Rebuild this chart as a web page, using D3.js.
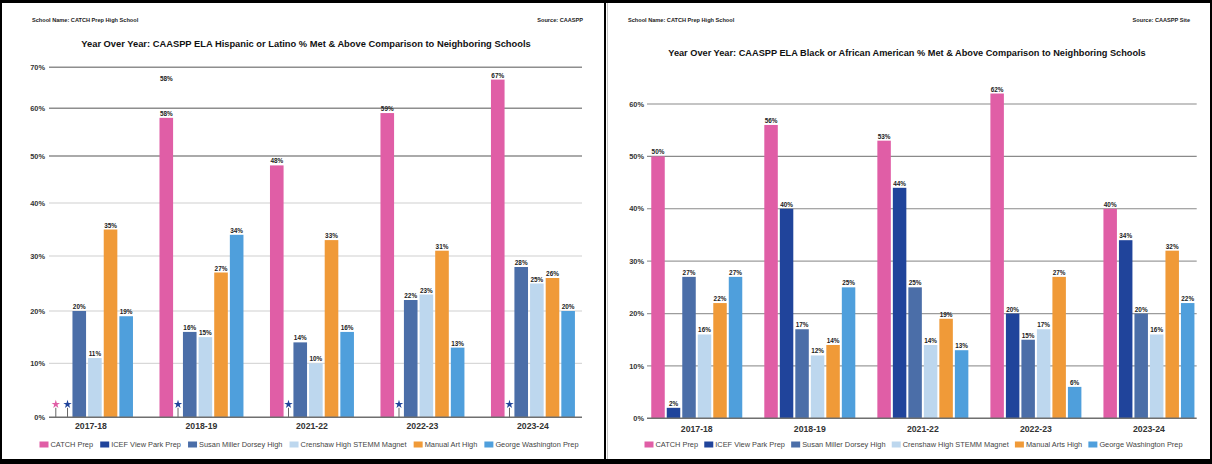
<!DOCTYPE html>
<html><head><meta charset="utf-8">
<script src="https://cdn.jsdelivr.net/npm/d3@7"></script>
<style>
body{margin:0;background:#fff}
svg{display:block}
text{font-family:"Liberation Sans", Arial, Helvetica, sans-serif}
</style>
</head><body>
<svg id="c" width="1212" height="464"></svg>
<script>
// ---------------- DATA ----------------
const years = ["2017-18","2018-19","2021-22","2022-23","2023-24"];
const seriesLeft  = ["CATCH Prep","ICEF View Park Prep","Susan Miller Dorsey High","Crenshaw High STEMM Magnet","Manual Art High","George Washington Prep"];
const seriesRight = ["CATCH Prep","ICEF View Park Prep","Susan Miller Dorsey High","Crenshaw High STEMM Magnet","Manual Arts High","George Washington Prep"];
const colors = ["#e05ea6","#20449b","#4b6ea8","#bdd7ee","#f09a38","#4f9fdc"];

// Hispanic or Latino (% Met & Above); null = suppressed (shown with a star)
const hispCatch    = [null,58,48,59,67];
const hispIcef     = [null,null,null,null,null];
const hispDorsey   = [20,16,14,22,28];
const hispCrenshaw = [11,15,10,23,25];
const hispManual   = [35,27,33,31,26];
const hispGW       = [19,34,16,13,20];

// Black or African American (% Met & Above)
const blackCatch    = [50,56,53,62,40];
const blackIcef     = [2,40,44,20,34];
const blackDorsey   = [27,17,25,15,20];
const blackCrenshaw = [16,12,14,17,16];
const blackManual   = [22,14,19,27,32];
const blackGW       = [27,25,13,6,22];

const ticksLeft  = [0,10,20,30,40,50,60,70];
const ticksRight = [0,10,20,30,40,50,60];

const titleLeft  = "Year Over Year: CAASPP ELA Hispanic or Latino % Met & Above Comparison to Neighboring Schools";
const titleRight = "Year Over Year: CAASPP ELA Black or African American % Met & Above Comparison to Neighboring Schools";
const schoolName = "School Name: CATCH Prep High School";
const sourceLeft = "Source: CAASPP";
const sourceRight = "Source: CAASPP Site";

// ---------------- DRAW ----------------
const svg = d3.select("#c");
svg.append("rect").attr("width",1212).attr("height",464).attr("fill","#000");
svg.append("rect").attr("x",2).attr("y",3).attr("width",602).attr("height",456).attr("fill","#fff");
svg.append("rect").attr("x",606).attr("y",3).attr("width",604).attr("height",456).attr("fill","#fff");
svg.append("line").attr("x1",607.5).attr("x2",607.5).attr("y1",3).attr("y2",459)
  .attr("stroke","#c4c4c4").attr("stroke-width",1);

const fmt = v => v + "%";

function fitText(sel, target){
  const w = sel.node().getComputedTextLength();
  const fs = parseFloat(sel.attr("font-size"));
  sel.attr("font-size", fs * target / w);
}

function panel(cfg){
  const g = svg.append("g");

  // header
  g.append("text").attr("x",cfg.schoolX).attr("y",cfg.headY).attr("font-size",5.6)
    .attr("font-weight","bold").attr("fill","#222").text(schoolName);
  g.append("text").attr("x",cfg.sourceX).attr("y",cfg.headY).attr("font-size",5.6)
    .attr("font-weight","bold").attr("fill","#222").attr("text-anchor","end").text(cfg.source);
  const t = g.append("text").attr("x",cfg.titleX).attr("y",cfg.titleY).attr("font-size",10)
    .attr("font-weight","bold").attr("fill","#111").attr("text-anchor","middle").text(cfg.title);
  fitText(t, cfg.titleW);

  const y = d3.scaleLinear().domain(cfg.yDomain).range(cfg.yRange);
  const x = d3.scaleBand().domain(years).range(cfg.xRange)
    .paddingInner(cfg.padIn).paddingOuter(cfg.padOut).align(cfg.align);

  // inner slot layout
  const wts = cfg.weights;
  const step = x.bandwidth() / (d3.sum(wts) - wts[wts.length-1] + cfg.barFrac);
  const offs = wts.map((w,i)=> step * d3.sum(wts.slice(0,i)));
  const widths = wts.map(w => step * (w - (1 - cfg.barFrac)));
  const xo = d3.scaleOrdinal().domain(cfg.series).range(offs);
  const xw = d3.scaleOrdinal().domain(cfg.series).range(widths);

  // gridlines
  g.append("g").selectAll("line").data(cfg.ticks.filter(d=>d>0)).join("line")
    .attr("x1",cfg.gridX[0]).attr("x2",cfg.gridX[1])
    .attr("y1",d=>y(d)).attr("y2",d=>y(d))
    .attr("stroke",d=>cfg.gridColor(d)).attr("stroke-width",d=>cfg.gridWidth(d));
  // y tick labels
  g.append("g").selectAll("text").data(cfg.ticks).join("text")
    .attr("x",cfg.yLabelX).attr("y",d=>y(d)).attr("dy","0.36em")
    .attr("text-anchor","end").attr("font-size",7.4).attr("font-weight","bold")
    .attr("fill","#333").text(fmt);

  // bars
  const recs = [];
  cfg.values.forEach((arr,si)=>{
    arr.forEach((v,yi)=>{
      recs.push({year:years[yi], s:cfg.series[si], si, v});
    });
  });
  const bars = recs.filter(d=>d.v!==null);
  g.append("g").selectAll("rect").data(bars).join("rect")
    .attr("x",d=>x(d.year)+xo(d.s))
    .attr("width",d=>xw(d.s))
    .attr("y",d=>y(d.v))
    .attr("height",d=>y(0)-y(d.v))
    .attr("fill",d=>colors[d.si]);
  g.append("g").selectAll("text").data(bars).join("text")
    .attr("x",d=>x(d.year)+xo(d.s)+xw(d.s)/2)
    .attr("y",d=>y(d.v)-2)
    .attr("text-anchor","middle").attr("font-size",6.4).attr("font-weight","bold")
    .attr("fill","#222").text(d=>fmt(d.v));

  // stars for suppressed values
  const stars = recs.filter(d=>d.v===null);
  const sg = g.append("g").selectAll("g").data(stars).join("g")
    .attr("transform",d=>`translate(${x(d.year)+xo(d.s)+xw(d.s)/2},${y(0)})`);
  sg.append("line").attr("x1",0).attr("x2",0).attr("y1",-9.5).attr("y2",0)
    .attr("stroke","#666").attr("stroke-width",1);
  sg.append("path").attr("d",d3.symbol(d3.symbolStar,22)).attr("transform","translate(0,-13)")
    .attr("fill",d=>colors[d.si]);

  // baseline
  g.append("line").attr("x1",cfg.gridX[0]).attr("x2",cfg.gridX[1])
    .attr("y1",y(0)).attr("y2",y(0)).attr("stroke","#6f6f6f").attr("stroke-width",1.5);

  // x labels
  g.append("g").selectAll("text").data(years).join("text")
    .attr("x",d=>x(d)+x.bandwidth()/2).attr("y",cfg.xLabelY)
    .attr("text-anchor","middle").attr("font-size",8.7).attr("font-weight","bold")
    .attr("fill","#333").text(d=>d);

  // stray duplicate label seen in the original
  if (cfg.stray){
    const s = cfg.stray;
    g.append("text").attr("x",x(s.year)+xo(s.s)+xw(s.s)/2).attr("y",y(d3.max(cfg.ticks))+13.5)
      .attr("text-anchor","middle").attr("font-size",6.4).attr("font-weight","bold")
      .attr("fill","#222").text(fmt(s.v));
  }

  // legend
  const lg = g.append("g");
  const items = lg.selectAll("g").data(cfg.series).join("g");
  items.append("rect").attr("width",9).attr("height",6).attr("y",-3)
    .attr("fill",(d,i)=>colors[i]);
  items.append("text").attr("x",11).attr("dy","0.35em").attr("font-size",7.4)
    .attr("fill","#444").text(d=>d);
  const ws = items.nodes().map(n=>n.getBBox().width);
  const gap = (cfg.legendX[1]-cfg.legendX[0]-d3.sum(ws))/(ws.length-1);
  let cx = cfg.legendX[0];
  items.attr("transform",(d,i)=>{ const tr=`translate(${cx},${cfg.legendY})`; cx += ws[i]+gap; return tr; });
}

panel({
  title:titleLeft, source:sourceLeft,
  schoolX:32, sourceX:583, headY:22, titleX:306, titleY:47, titleW:450,
  series:seriesLeft,
  values:[hispCatch,hispIcef,hispDorsey,hispCrenshaw,hispManual,hispGW],
  ticks:ticksLeft,
  yDomain:[0,10,20,30,40,50,60,70],
  yRange:[417.3,363.3,311,256,203,156,108.3,67.3],
  xRange:[49,582], padIn:0.24, padOut:0.032, align:0,
  weights:[1,0.5,1,1,1,1], barFrac:0.87,
  gridX:[49,582],
  gridColor:d=> d>=50 ? "#8e8e8e" : "#cfcfcf",
  gridWidth:d=> d>=50 ? 1.4 : 1,
  yLabelX:45, xLabelY:429,
  legendX:[39.5,578.5], legendY:444.5,
  stray:{year:"2018-19", s:"CATCH Prep", v:58}
});

panel({
  title:titleRight, source:sourceRight,
  schoolX:628, sourceX:1190, headY:22, titleX:907, titleY:56, titleW:478,
  series:seriesRight,
  values:[blackCatch,blackIcef,blackDorsey,blackCrenshaw,blackManual,blackGW],
  ticks:ticksRight,
  yDomain:[0,60],
  yRange:[418.3,104],
  xRange:[649,1196.7], padIn:0.195, padOut:0.02, align:0.5,
  weights:[1,1,1,1,1,1], barFrac:0.87,
  gridX:[647,1196.7],
  gridColor:d=> d>=40 ? "#8a8a8a" : "#9c9c9c",
  gridWidth:d=> 1.2,
  yLabelX:644, xLabelY:432,
  legendX:[644.5,1182.5], legendY:444.5,
  stray:null
});
</script>
</body></html>
